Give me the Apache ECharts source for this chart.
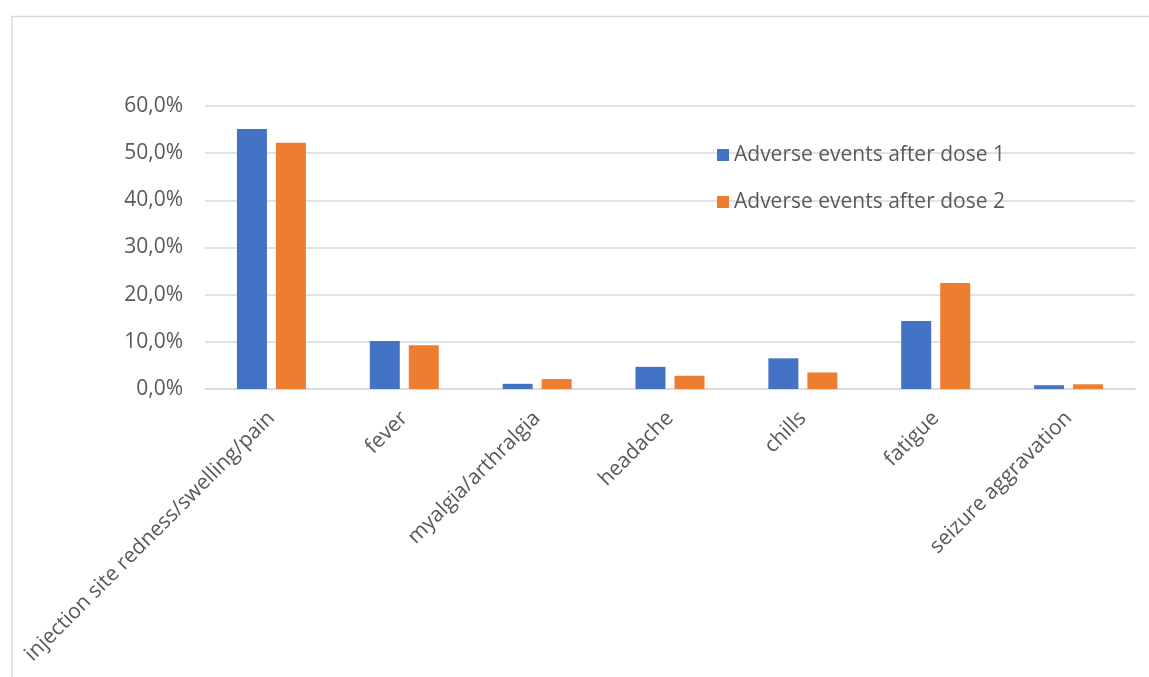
<!DOCTYPE html>
<html>
<head>
<meta charset="utf-8">
<script src="https://cdn.jsdelivr.net/npm/echarts@6/dist/echarts.min.js"></script>
<style>html,body{margin:0;padding:0;background:#fff;}#c{width:1149px;height:677px;}</style>
</head>
<body>
<div id="c"></div>
<script>
const categories = ["injection site redness/swelling/pain", "fever", "myalgia/arthralgia", "headache", "chills", "fatigue", "seizure aggravation"];
const dose1 = [55.1, 10.2, 1.1, 4.7, 6.5, 14.4, 0.8];
const dose2 = [52.2, 9.3, 2.1, 2.8, 3.5, 22.5, 1.0];
const seriesNames = ["Adverse events after dose 1", "Adverse events after dose 2"];
const yTicks = { min: 0, max: 60, interval: 10 };

const FONT = "Open Sans";
const chart = echarts.init(document.getElementById('c'));
chart.setOption({
  animation: false,
  backgroundColor: '#fff',
  graphic: [{
    type: 'rect', silent: true,
    shape: { x: 12, y: 16.5, width: 1300, height: 800 },
    style: { fill: 'none', stroke: '#d9d9d9', lineWidth: 1.5 }
  }],
  grid: { left: 205, right: 14, top: 106, bottom: 288, containLabel: false },
  legend: {
    orient: 'vertical', left: 717, top: 143, padding: 0,
    itemWidth: 12, itemHeight: 12, itemGap: 23,
    icon: 'rect',
    textStyle: { fontFamily: FONT, fontSize: 21, color: '#595959', lineHeight: 24 },
    data: seriesNames
  },
  xAxis: {
    type: 'category', data: categories,
    axisLine: { lineStyle: { color: '#d9d9d9', width: 1.5 } },
    axisTick: { show: false },
    axisLabel: { interval: 0, rotate: 45, margin: 26, fontFamily: FONT, fontSize: 21, color: '#595959' }
  },
  yAxis: {
    type: 'value', min: yTicks.min, max: yTicks.max, interval: yTicks.interval,
    axisLine: { show: false }, axisTick: { show: false },
    splitLine: { lineStyle: { color: '#d9d9d9', width: 1.5 } },
    axisLabel: {
      margin: 22, fontFamily: FONT, fontSize: 21, color: '#595959',
      formatter: v => v.toFixed(1).replace('.', ',') + '%'
    }
  },
  series: [
    { name: seriesNames[0], type: 'bar', data: dose1, barWidth: 30, barGap: '30%', itemStyle: { color: '#4472c4' } },
    { name: seriesNames[1], type: 'bar', data: dose2, barWidth: 30, itemStyle: { color: '#ed7d31' } }
  ]
});
</script>
</body>
</html>
